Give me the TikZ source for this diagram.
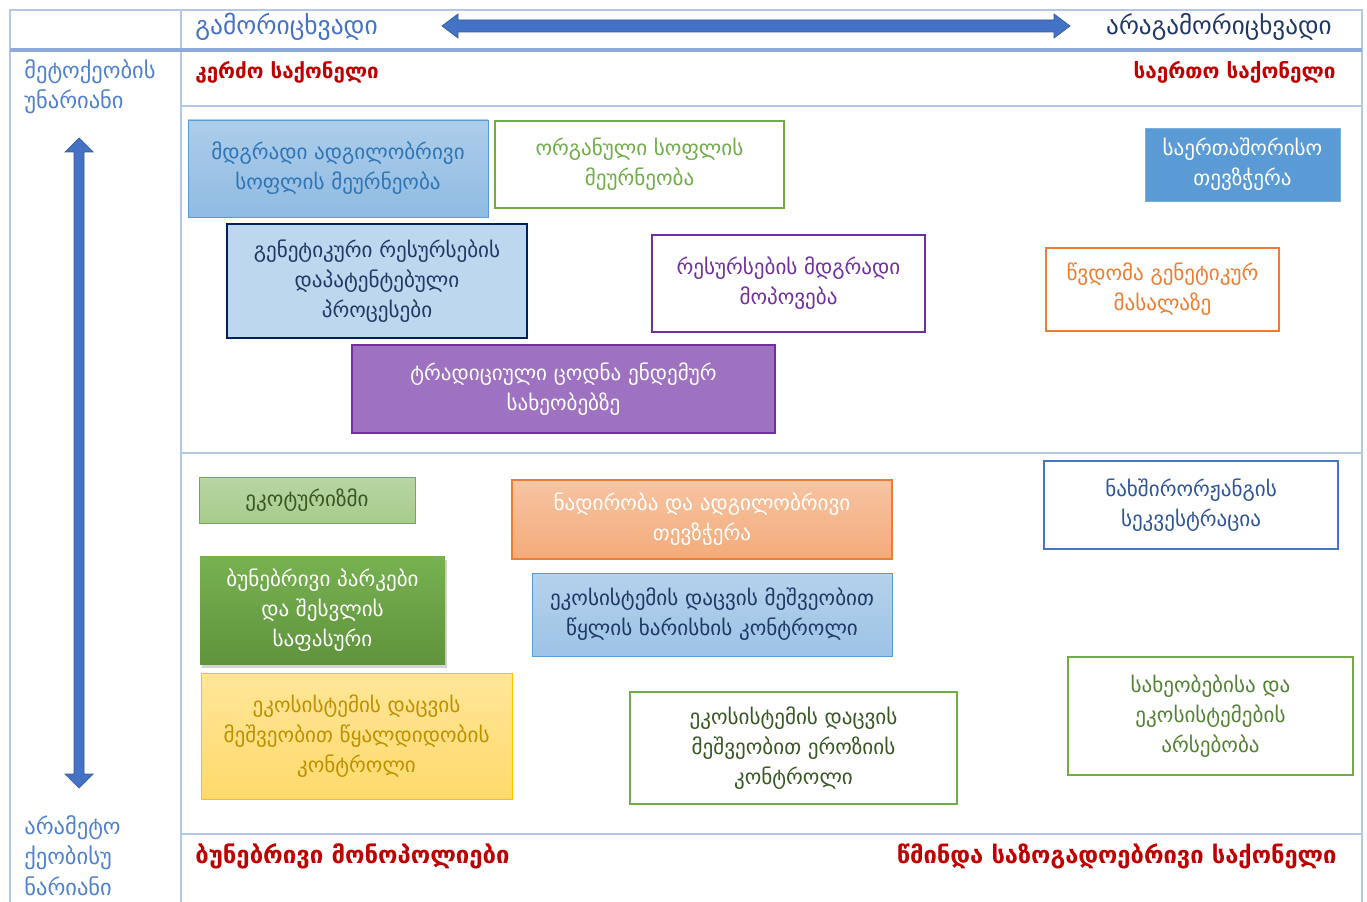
\documentclass[tikz,border=0pt]{standalone}
\usepackage{fontspec}
\setmainfont{DejaVu Sans}
\usetikzlibrary{shadows}
\definecolor{gridc}{HTML}{B4C7E7}
\definecolor{headc}{HTML}{8EAADB}
\definecolor{arrc}{HTML}{4472C4}
\definecolor{bluet}{HTML}{2E75B6}
\definecolor{blueb}{HTML}{5B9BD5}
\definecolor{greenb}{HTML}{70AD47}
\definecolor{purpb}{HTML}{7030A0}
\definecolor{purpf}{HTML}{9E72C0}
\definecolor{orangeb}{HTML}{ED7D31}
\definecolor{navyb}{HTML}{002060}
\definecolor{navyt}{HTML}{1F3864}
\definecolor{lightbf}{HTML}{BDD7EE}
\definecolor{goldb}{HTML}{FFC000}
\definecolor{goldt}{HTML}{BF9000}
\definecolor{dgreent}{HTML}{385723}
\definecolor{mgreent}{HTML}{548235}
\definecolor{box12t}{HTML}{2F5597}
\definecolor{redt}{HTML}{C00000}
\definecolor{leftt}{HTML}{4F81D0}
\newcommand{\gbox}[7]{\node[#6, minimum width={(#4-#2)*0.02cm}, minimum height={(#5-#3)*0.02cm}] (#1) at ({(#2+#4)/2},{-(#3+#5)/2}) {#7};}
\tikzset{
  gb/.style={draw, align=center, inner sep=2pt, font=\fontsize{12}{17}\selectfont},
  grid line/.style={draw=gridc, line width=0.6pt},
  lbl/.style={inner sep=0pt},
  redlbl/.style={inner sep=0pt, text=redt},
  leftlbl/.style={inner sep=0pt, text=leftt, align=left, font=\fontsize{12.8}{17.5}\selectfont},
}
\begin{document}
\begin{tikzpicture}[x=0.02cm, y=0.02cm]
\useasboundingbox (0,0) rectangle (1367,-902);
% grid
\draw[grid line] (10,-902) -- (10,-10) -- (1362,-10) -- (1362,-902);
\draw[grid line] (181,-10) -- (181,-902);
\draw[grid line] (181,-106) -- (1362,-106);
\draw[grid line] (181,-453) -- (1362,-453);
\draw[grid line] (181,-834) -- (1362,-834);
\draw[draw=headc, line width=1.8pt] (10,-50) -- (1362,-50);
% horizontal arrow
\fill[arrc, draw=arrc!80!black, line width=0.4pt] (442,-26) -- (458,-14) -- (458,-20) -- (1054,-20) -- (1054,-14) -- (1070,-26) -- (1054,-38) -- (1054,-32) -- (458,-32) -- (458,-38) -- cycle;
% vertical arrow
\fill[arrc, draw=arrc!80!black, line width=0.4pt] (79,-138) -- (93,-152) -- (84,-152) -- (84,-774) -- (93,-774) -- (79,-788) -- (65,-774) -- (74,-774) -- (74,-152) -- (65,-152) -- cycle;
% header labels
\node[lbl, text=arrc, anchor=west, font=\fontsize{14.5}{17}\selectfont] (hl) at (195,-27) {გამორიცხვადი};
\node[lbl, text=navyt, anchor=east, font=\fontsize{14.3}{17}\selectfont] (hr) at (1332,-27) {არაგამორიცხვადი};
% red labels
\node[redlbl, anchor=west, font=\fontsize{11.7}{17}\selectfont\bfseries] (r1) at (195,-72) {კერძო საქონელი};
\node[redlbl, anchor=east, font=\fontsize{11.8}{17}\selectfont\bfseries] (r2) at (1336,-72) {საერთო საქონელი};
\node[redlbl, anchor=west, font=\fontsize{13.6}{17}\selectfont\bfseries] (r3) at (195,-856) {ბუნებრივი მონოპოლიები};
\node[redlbl, anchor=east, font=\fontsize{13.5}{17}\selectfont\bfseries] (r4) at (1337,-856) {წმინდა საზოგადოებრივი საქონელი};
% left labels
\node[leftlbl, anchor=north west] (l1) at (24,-59) {მეტოქეობის\\უნარიანი};
\node[leftlbl, anchor=north west] (l2) at (24,-815) {არამეტო\\ქეობისუ\\ნარიანი};
% boxes
\gbox{b1}{188}{120}{488}{217}{gb, draw=blueb, top color=blueb!50, bottom color=blueb!68, text=bluet}{მდგრადი ადგილობრივი\\სოფლის მეურნეობა}
\gbox{b2}{495}{121}{784}{208}{gb, draw=greenb, line width=1.3pt, fill=white, text=greenb}{ორგანული სოფლის\\მეურნეობა}
\gbox{b3}{1145}{128}{1340}{201}{gb, draw=blueb!80, fill=blueb, text=white}{საერთაშორისო\\თევზჭერა}
\gbox{b4}{227}{224}{527}{338}{gb, draw=navyb, line width=1.5pt, fill=lightbf, text=navyt}{გენეტიკური რესურსების\\დაპატენტებული\\პროცესები}
\gbox{b5}{652}{235}{925}{332}{gb, draw=purpb, line width=1.3pt, fill=white, text=purpb}{რესურსების მდგრადი\\მოპოვება}
\gbox{b6}{1046}{248}{1279}{331}{gb, draw=orangeb, line width=1.3pt, fill=white, text=orangeb}{წვდომა გენეტიკურ\\მასალაზე}
\gbox{b7}{352}{345}{775}{433}{gb, draw=purpb, line width=1.3pt, fill=purpf, text=white}{ტრადიციული ცოდნა ენდემურ\\სახეობებზე}
\gbox{b8}{199}{477}{415}{523}{gb, draw=greenb, top color=greenb!50, bottom color=greenb!62, text=dgreent}{ეკოტურიზმი}
\gbox{b9}{512}{480}{892}{559}{gb, draw=orangeb, line width=1pt, top color=orangeb!45, bottom color=orangeb!65, text=white}{ნადირობა და ადგილობრივი\\თევზჭერა}
\gbox{b10}{200}{556}{445}{664}{gb, draw=none, top color=greenb!95!white, bottom color=greenb!85!black, text=white, drop shadow={opacity=0.35, shadow xshift=1pt, shadow yshift=-2pt}}{ბუნებრივი პარკები\\და შესვლის\\საფასური}
\gbox{b11}{532}{573}{892}{656}{gb, draw=blueb, top color=blueb!45, bottom color=blueb!60, text=navyt}{ეკოსისტემის დაცვის მეშვეობით\\წყლის ხარისხის კონტროლი}
\gbox{b12}{1044}{461}{1338}{549}{gb, draw=arrc, line width=1.3pt, fill=white, text=box12t}{ნახშირორჟანგის\\სეკვესტრაცია}
\gbox{b13}{201}{673}{512}{799}{gb, draw=goldb, top color=goldb!40, bottom color=goldb!58, text=goldt}{ეკოსისტემის დაცვის\\მეშვეობით წყალდიდობის\\კონტროლი}
\gbox{b14}{630}{692}{957}{804}{gb, draw=greenb, line width=1.3pt, fill=white, text=dgreent}{ეკოსისტემის დაცვის\\მეშვეობით ეროზიის\\კონტროლი}
\gbox{b15}{1068}{657}{1353}{775}{gb, draw=greenb, line width=1.3pt, fill=white, text=mgreent}{სახეობებისა და\\ეკოსისტემების\\არსებობა}
\end{tikzpicture}
\end{document}
